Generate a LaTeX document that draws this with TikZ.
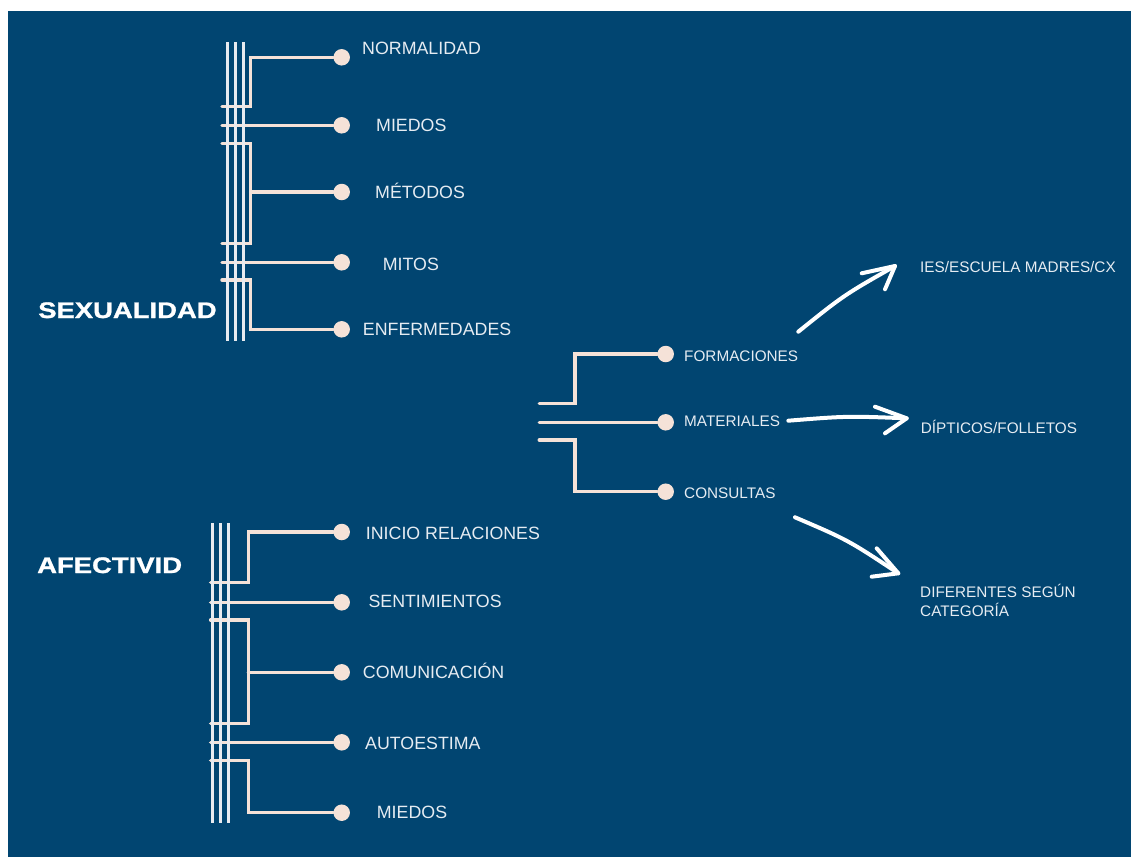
\documentclass[tikz,border=0pt]{standalone}
\usepackage{fontspec}
\setmainfont{Liberation Sans}
\newfontfamily\titlefont[FakeStretch=1.22,FakeBold=1.2]{Liberation Sans Bold}
\definecolor{bg}{RGB}{1,69,113}
\definecolor{peach}{RGB}{245,226,216}
\definecolor{rail}{RGB}{232,235,240}
\definecolor{labelc}{RGB}{230,236,242}
\begin{document}
\begin{tikzpicture}[x=1pt,y=-1pt,
  dot/.style={circle,fill=peach,inner sep=0pt,minimum size=16.5pt},
  wire/.style={draw=peach,line width=3.5pt,line cap=round},
  railline/.style={draw=rail,line width=3pt},
  lbl/.style={anchor=base west,inner sep=0pt,text=labelc,font=\fontsize{17.8}{21}\selectfont},
  slbl/.style={anchor=base west,inner sep=0pt,text=labelc,align=left,font=\fontsize{15.3}{19}\selectfont},
  title/.style={anchor=base west,inner sep=0pt,text=white,font=\titlefont\fontsize{22.5}{27}\selectfont},
  arrowline/.style={draw=white,line width=4pt,line cap=round,line join=round}]

% canvas
\path[use as bounding box,fill=white] (0,0) rectangle (1132,857);
\fill[bg] (8,11) rectangle (1131,857);

% ---------- SEXUALIDAD ----------
\node[title] (sex) at (38,318) {SEXUALIDAD};
\node[dot] (s1) at (341.7,57.3) {};
\node[dot] (s2) at (341.7,125.3) {};
\node[dot] (s3) at (341.7,192) {};
\node[dot] (s4) at (341.7,262.3) {};
\node[dot] (s5) at (341.7,329.3) {};
\coordinate (sa) at (222,106.7);
\coordinate (sb) at (222,125.3);
\coordinate (sc) at (222,143.3);
\coordinate (sd) at (222,243.3);
\coordinate (sj) at (250.7,192);
\coordinate (se) at (222,262.3);
\coordinate (sf) at (222,280);
\draw[wire] (sa) -- ++(28.7,0) |- (s1);
\draw[wire] (sb) -- (s2);
\draw[wire] (sc) -- ++(28.7,0) |- (sd);
\draw[wire] (sj) -- (s3);
\draw[wire] (se) -- (s4);
\draw[wire] (sf) -- ++(28.7,0) |- (s5);
\foreach \x in {227.3,235.3,243.3}
  \draw[railline] (\x,42) -- (\x,341);
\node[lbl] at (362,54.3) {NORMALIDAD};
\node[lbl] at (376,131.5) {MIEDOS};
\node[lbl] at (375,198.5) {MÉTODOS};
\node[lbl] at (382.7,270.3) {MITOS};
\node[lbl] at (362.7,335) {ENFERMEDADES};

% ---------- AFECTIVIDAD ----------
\node[title] (afe) at (37,573) {AFECTIVID};
\node[dot] (f1) at (341.7,532) {};
\node[dot] (f2) at (341.7,602.3) {};
\node[dot] (f3) at (341.7,672.3) {};
\node[dot] (f4) at (341.7,742.3) {};
\node[dot] (f5) at (341.7,812.7) {};
\coordinate (fa) at (210.7,582.7);
\coordinate (fb) at (210.7,602.3);
\coordinate (fc) at (210.7,620);
\coordinate (fd) at (210.7,723.3);
\coordinate (fj) at (248.3,672.3);
\coordinate (fe) at (210.7,742.3);
\coordinate (ff) at (210.7,760.7);
\draw[wire] (fa) -- ++(37.6,0) |- (f1);
\draw[wire] (fb) -- (f2);
\draw[wire] (fc) -- ++(37.6,0) |- (fd);
\draw[wire] (fj) -- (f3);
\draw[wire] (fe) -- (f4);
\draw[wire] (ff) -- ++(37.6,0) |- (f5);
\foreach \x in {212.7,220.3,228}
  \draw[railline] (\x,523) -- (\x,823);
\node[lbl] at (365.7,539) {INICIO RELACIONES};
\node[lbl] at (368.3,607) {SENTIMIENTOS};
\node[lbl] at (362.7,678.6) {COMUNICACIÓN};
\node[lbl] at (365,749) {AUTOESTIMA};
\node[lbl] at (376.7,818) {MIEDOS};

% ---------- centre branch ----------
\node[dot] (m1) at (665.7,354) {};
\node[dot] (m2) at (665.7,422.3) {};
\node[dot] (m3) at (665.7,491.7) {};
\coordinate (ma) at (539.3,403.3);
\coordinate (mb) at (539.3,422.3);
\coordinate (mc) at (539.3,440);
\draw[wire] (ma) -- ++(35.7,0) |- (m1);
\draw[wire] (mb) -- (m2);
\draw[wire] (mc) -- ++(35.7,0) |- (m3);
\node[slbl] (formaciones) at (684,361) {FORMACIONES};
\node[slbl] (materiales) at (684,426) {MATERIALES};
\node[slbl] (consultas) at (684,498.5) {CONSULTAS};

% ---------- outcomes ----------
\node[slbl] (ies) at (920,272) {IES/ESCUELA MADRES/CX};
\node[slbl] (dip) at (920.7,433.5) {DÍPTICOS/FOLLETOS};
\node[slbl] (dif) at (920,616) {DIFERENTES SEGÚN\\CATEGORÍA};

% hand-drawn arrows
\coordinate (a1s) at (798.3,331.7);
\coordinate (a1t) at (895,266);
\coordinate (a1l) at (861.7,273.3);
\coordinate (a1r) at (885,289.3);
\draw[arrowline] (a1s) .. controls (844,295) .. (a1t);
\draw[arrowline] (a1l) -- (a1t) -- (a1r);

\coordinate (a2s) at (788.3,420.7);
\coordinate (a2t) at (906.7,418.3);
\coordinate (a2l) at (875,406.7);
\coordinate (a2r) at (885,433.3);
\draw[arrowline] (a2s) .. controls (847,416) .. (a2t);
\draw[arrowline] (a2l) -- (a2t) -- (a2r);

\coordinate (a3s) at (795,517.3);
\coordinate (a3t) at (898.3,573.3);
\coordinate (a3l) at (876.7,548.3);
\coordinate (a3r) at (871.7,576.7);
\draw[arrowline] (a3s) .. controls (848,540) .. (a3t);
\draw[arrowline] (a3l) -- (a3t) -- (a3r);
\end{tikzpicture}
\end{document}
